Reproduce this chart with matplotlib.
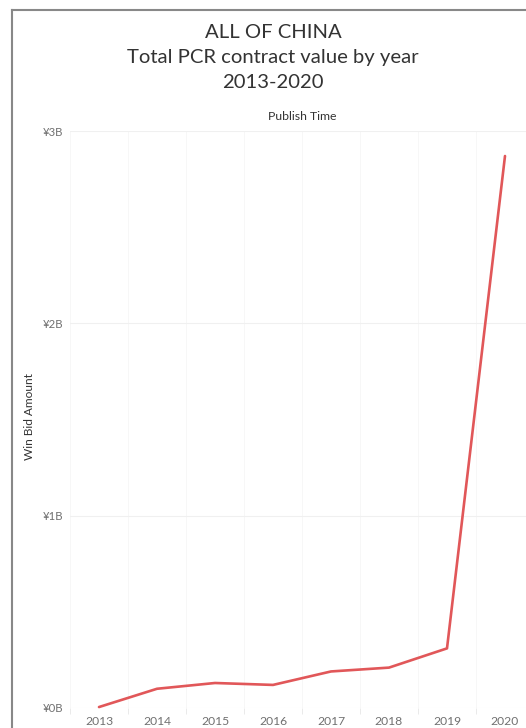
import numpy as np
import matplotlib.pyplot as plt
from matplotlib.lines import Line2D
from matplotlib.ticker import FixedLocator

years = ['2013', '2014', '2015', '2016', '2017', '2018', '2019', '2020']
win_bid_billion = [0.005, 0.10, 0.13, 0.12, 0.19, 0.21, 0.31, 2.87]
y_ticks = [0, 1, 2, 3]
y_labels = ['¥0B', '¥1B', '¥2B', '¥3B']

plt.rcParams['font.family'] = ['Lato', 'DejaVu Sans']

W, H = 526, 728
fig = plt.figure(figsize=(W / 100, H / 100), dpi=100, facecolor='white')

# plot area in pixels (right edge runs past the image, like the reference)
left, right, top, bottom = 70, 534, 131, 708
ax = fig.add_axes([left / W, 1 - bottom / H, (right - left) / W, (bottom - top) / H])

x = np.arange(len(years))
ax.plot(x, win_bid_billion, color='#e15759', lw=1.9, solid_capstyle='round',
        solid_joinstyle='round', clip_on=False, zorder=3)

ax.set_xlim(-0.5, len(years) - 0.5)
ax.set_ylim(0, 3)
ax.set_xticks(x)
ax.set_xticklabels(years)
ax.xaxis.set_minor_locator(FixedLocator(np.arange(-0.5, len(years), 1)))
ax.set_yticks(y_ticks)
ax.set_yticklabels(y_labels)

ax.tick_params(axis='both', which='major', length=0, labelcolor='#707070')
ax.tick_params(axis='x', which='major', pad=6, labelsize=8.7)
ax.tick_params(axis='y', which='major', pad=5, labelsize=8.2)
ax.tick_params(axis='x', which='minor', length=4, color='#e6e6e6', width=0.6)
ax.grid(axis='y', which='major', color='#f0f0f0', lw=0.8)
ax.grid(axis='x', which='minor', color='#f6f6f6', lw=0.6)
for s in ax.spines.values():
    s.set_visible(False)

ax.set_ylabel('Win Bid Amount', fontsize=8.6, color='#333333')
ax.yaxis.set_label_coords((35 - left) / (right - left), 0.505)
ax.text(0.5, 1.0 + 14 / (bottom - top), 'Publish Time', transform=ax.transAxes,
        ha='center', va='center', fontsize=8.8, color='#333333')

# titles
for ypx, txt in [(32, 'ALL OF CHINA'), (57, 'Total PCR contract value by year'),
                 (82, '2013-2020')]:
    fig.text(273 / W, 1 - ypx / H, txt, ha='center', va='center',
             fontsize=14.6, color='#333333')

# dashboard border
fig.add_artist(Line2D([12 / W, 12 / W], [0, 1 - 10 / H], transform=fig.transFigure,
                      color='#888888', lw=1.5))
fig.add_artist(Line2D([12 / W, 1], [1 - 10 / H, 1 - 10 / H], transform=fig.transFigure,
                      color='#888888', lw=1.5))

fig.savefig('out.png', dpi=100, facecolor='white')
